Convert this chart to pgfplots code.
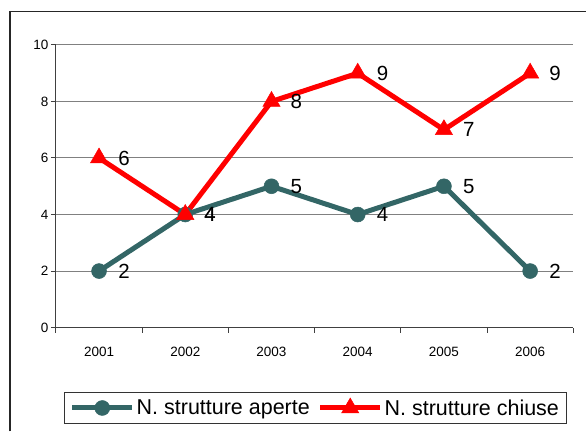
\documentclass[border=0pt]{standalone}
\usepackage{fontspec}
\setmainfont{Liberation Sans}
\usepackage{pgfplots}
\pgfplotsset{compat=1.18}
\definecolor{teal1}{RGB}{51,102,102}
\definecolor{gridg}{RGB}{128,128,128}
\definecolor{axg}{RGB}{64,64,64}
\begin{document}
\begin{tikzpicture}
\path (0pt,0pt) rectangle (587pt,432pt);
\draw[line width=1.5pt,black!85] (10pt,0pt)--(10pt,420.5pt)--(587pt,420.5pt);
\begin{axis}[
  at={(56pt,104pt)}, anchor=south west,
  scale only axis, width=518pt, height=283pt,
  xmin=-0.5, xmax=5.5, ymin=0, ymax=10,
  axis x line*=bottom, axis y line*=left,
  axis line style={axg, line width=1pt, -},
  xtick={0,...,5},
  xticklabels={2001,2002,2003,2004,2005,2006},
  major x tick style={draw=none},
  extra x ticks={-0.5,0.5,1.5,2.5,3.5,4.5,5.5},
  extra x tick labels={},
  extra x tick style={grid=none, major tick length=5pt, tick align=outside, major x tick style={draw=axg, line width=1pt}},
  ytick={0,2,...,10},
  ymajorgrids,
  grid style={gridg, line width=1pt},
  major y tick style={draw=axg, line width=1pt},
  tick align=outside, major tick length=5pt,
  tick label style={font=\fontsize{13.5}{15}\selectfont},
  /pgf/number format/assume math mode=true,
  xticklabel style={yshift=-11pt},
  yticklabel style={xshift=1pt},
  clip=false,
  legend columns=2,
  legend style={at={(0.5015,-0.2845)}, anchor=center, draw=black!80, line width=0.8pt,
    font=\fontsize{21.5}{24}\selectfont, inner xsep=5pt, inner ysep=5pt,
    nodes={inner xsep=2pt},
    /tikz/every even column/.append style={column sep=6pt}},
  legend image code/.code={\draw[mark repeat=2,mark phase=2,#1] plot coordinates {(0pt,0pt)(30pt,0pt)(60pt,0pt)};},
  nodes near coords,
  every node near coord/.append style={anchor=west, inner sep=0pt, xshift=19pt, black, font=\fontsize{20.5}{22}\selectfont},
]
\addplot[teal1, line width=5pt, mark=*, mark size=7.5pt, mark options={solid, line width=0.5pt, fill=teal1}]
  coordinates {(0,2)(1,4)(2,5)(3,4)(4,5)(5,2)};
\addlegendentry{N. strutture aperte}
\addplot[red, line width=5pt, mark=triangle*, mark size=10pt, mark options={solid, line width=0.5pt, fill=red}]
  coordinates {(0,6)(1,4)(2,8)(3,9)(4,7)(5,9)};
\addlegendentry{N. strutture chiuse}
\end{axis}
\end{tikzpicture}
\end{document}
